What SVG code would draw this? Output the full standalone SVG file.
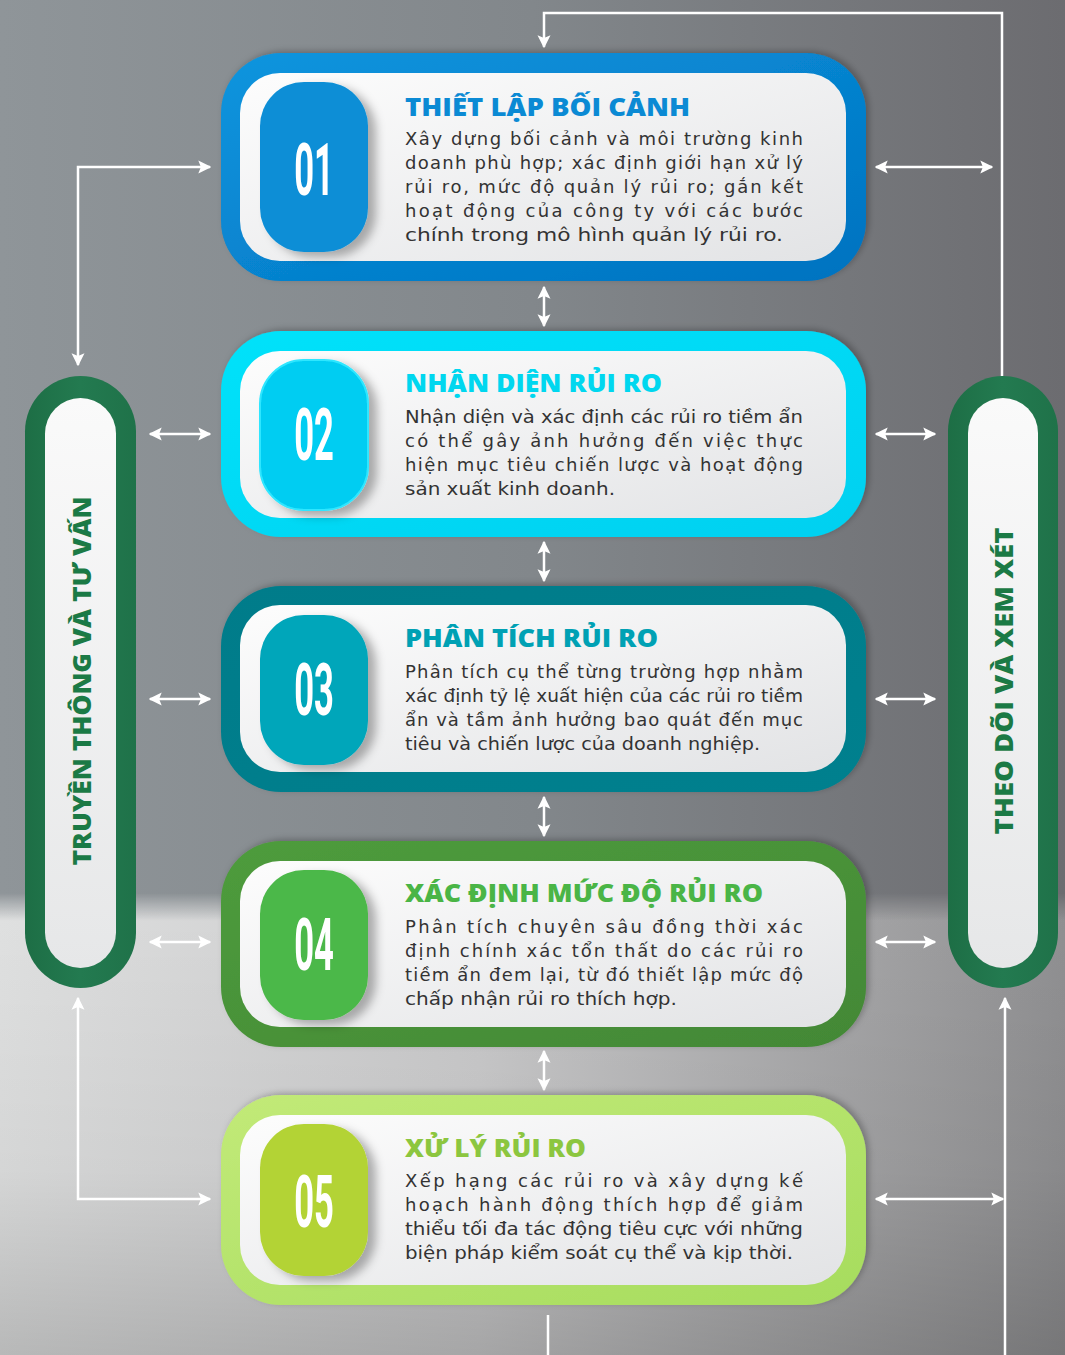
<svg xmlns="http://www.w3.org/2000/svg" width="1065" height="1355" viewBox="0 0 1065 1355">
<defs>
<linearGradient id="bgTop" x1="0" y1="0" x2="1" y2="0">
<stop offset="0" stop-color="#8f9599"/><stop offset="0.5" stop-color="#82878b"/><stop offset="1" stop-color="#6c6c70"/>
</linearGradient>
<linearGradient id="bgFloor" x1="0" y1="0" x2="1" y2="0">
<stop offset="0" stop-color="#e0e1e1"/><stop offset="0.45" stop-color="#cacacb"/><stop offset="1" stop-color="#909092"/>
</linearGradient>
<linearGradient id="floorShade" x1="0" y1="0" x2="0" y2="1">
<stop offset="0" stop-color="#000" stop-opacity="0"/><stop offset="0.6" stop-color="#000" stop-opacity="0.05"/><stop offset="1" stop-color="#000" stop-opacity="0.18"/>
</linearGradient>
<linearGradient id="floorMaskG" x1="0" y1="0" x2="0" y2="1">
<stop offset="0" stop-color="#fff" stop-opacity="0"/><stop offset="0.06" stop-color="#fff" stop-opacity="1"/><stop offset="1" stop-color="#fff" stop-opacity="1"/>
</linearGradient>
<mask id="floorMask" maskUnits="userSpaceOnUse" x="0" y="893" width="1065" height="462">
<rect x="0" y="893" width="1065" height="462" fill="url(#floorMaskG)"/>
</mask>
<linearGradient id="white" x1="0" y1="0" x2="1" y2="1">
<stop offset="0" stop-color="#fdfdfd"/><stop offset="1" stop-color="#e2e3e5"/>
</linearGradient>
<linearGradient id="barWhite" x1="0" y1="0" x2="0" y2="1">
<stop offset="0" stop-color="#fafafa"/><stop offset="1" stop-color="#e6e7e8"/>
</linearGradient>
<linearGradient id="g1" x1="0" y1="0" x2="1" y2="1"><stop offset="0" stop-color="#0d95de"/><stop offset="1" stop-color="#0072c0"/></linearGradient>
<linearGradient id="g2" x1="0" y1="0" x2="1" y2="1"><stop offset="0" stop-color="#00e2fa"/><stop offset="1" stop-color="#00d0f0"/></linearGradient>
<linearGradient id="g3" x1="0" y1="0" x2="1" y2="1"><stop offset="0" stop-color="#007c8a"/><stop offset="1" stop-color="#00808e"/></linearGradient>
<linearGradient id="g4" x1="0" y1="0" x2="1" y2="1"><stop offset="0" stop-color="#4e9c3c"/><stop offset="1" stop-color="#438836"/></linearGradient>
<linearGradient id="g5" x1="0" y1="0" x2="1" y2="1"><stop offset="0" stop-color="#c2ea78"/><stop offset="1" stop-color="#a6dc5e"/></linearGradient>
<linearGradient id="gbar" x1="0" y1="0" x2="1" y2="0"><stop offset="0" stop-color="#1d6e45"/><stop offset="0.5" stop-color="#237a50"/><stop offset="1" stop-color="#1f7249"/></linearGradient>
<filter id="boxShadow" x="-30%" y="-20%" width="170%" height="150%">
<feDropShadow dx="8" dy="5" stdDeviation="5" flood-color="#000" flood-opacity="0.3"/>
</filter>
<filter id="cardShadow" x="-10%" y="-20%" width="120%" height="140%">
<feDropShadow dx="3" dy="-2" stdDeviation="3" flood-color="#000" flood-opacity="0.25"/>
</filter>
<marker id="ah" viewBox="0 0 10 10" refX="9" refY="5" markerWidth="13" markerHeight="14" markerUnits="userSpaceOnUse" orient="auto-start-reverse">
<path d="M0,0 L10,5 L0,10 L2,5 z" fill="#ffffff"/>
</marker>
</defs>
<style>
.conn{fill:none;stroke:#ffffff;stroke-width:2.5}
.inner{fill:url(#white)}
.title{font-family:"Open Sans","Noto Sans","DejaVu Sans",sans-serif;font-weight:800;font-size:24px}
.body{font-family:"DejaVu Sans","Noto Sans",sans-serif;font-size:18px;fill:#333333}
.num{font-family:Roboto,"Liberation Sans",sans-serif;font-weight:700;font-size:72px;fill:#ffffff;text-anchor:middle}
.bar{font-family:"Open Sans","Noto Sans","DejaVu Sans",sans-serif;font-weight:800;font-size:24px;fill:#1b7a45;text-anchor:middle}
</style>

<!-- background -->
<rect x="0" y="0" width="1065" height="1355" fill="url(#bgTop)"/>
<g mask="url(#floorMask)">
<rect x="0" y="893" width="1065" height="462" fill="url(#bgFloor)"/>
<rect x="0" y="893" width="1065" height="462" fill="url(#floorShade)"/>
</g>

<!-- connectors -->
<g id="connectors">
<path class="conn" d="M1002 376 V13 H544 V47" marker-end="url(#ah)"/>
<path class="conn" d="M210 167 H78 V365" marker-start="url(#ah)" marker-end="url(#ah)"/>
<path class="conn" d="M78 998 V1199 H210" marker-start="url(#ah)" marker-end="url(#ah)"/>
<path class="conn" d="M1005 1355 V998" marker-end="url(#ah)"/>
<path class="conn" d="M548 1315 V1355"/>
<path class="conn" d="M876 167 H992" marker-start="url(#ah)" marker-end="url(#ah)"/>
<path class="conn" d="M876 1199 H1003" marker-start="url(#ah)" marker-end="url(#ah)"/>
<path class="conn" d="M150 434 H210" marker-start="url(#ah)" marker-end="url(#ah)"/>
<path class="conn" d="M150 699 H210" marker-start="url(#ah)" marker-end="url(#ah)"/>
<path class="conn" d="M150 942 H210" marker-start="url(#ah)" marker-end="url(#ah)"/>
<path class="conn" d="M876 434 H935" marker-start="url(#ah)" marker-end="url(#ah)"/>
<path class="conn" d="M876 699 H935" marker-start="url(#ah)" marker-end="url(#ah)"/>
<path class="conn" d="M876 942 H935" marker-start="url(#ah)" marker-end="url(#ah)"/>
<path class="conn" d="M544 287 V326" marker-start="url(#ah)" marker-end="url(#ah)"/>
<path class="conn" d="M544 542 V581" marker-start="url(#ah)" marker-end="url(#ah)"/>
<path class="conn" d="M544 797 V836" marker-start="url(#ah)" marker-end="url(#ah)"/>
<path class="conn" d="M544 1051 V1090" marker-start="url(#ah)" marker-end="url(#ah)"/>
</g>

<!-- side bars -->
<g id="bar-left">
<rect x="25" y="376" width="111" height="612" rx="55.5" fill="url(#gbar)"/>
<rect x="45" y="398" width="71" height="570" rx="35.5" fill="url(#barWhite)"/>
<text class="bar" transform="translate(91,681) rotate(-90)" textLength="369" lengthAdjust="spacingAndGlyphs">TRUYỀN THÔNG VÀ TƯ VẤN</text>
</g>
<g id="bar-right">
<rect x="948" y="376" width="110" height="612" rx="55" fill="url(#gbar)"/>
<rect x="968" y="398" width="70" height="570" rx="35" fill="url(#barWhite)"/>
<text class="bar" transform="translate(1013,681) rotate(-90)" textLength="307" lengthAdjust="spacingAndGlyphs">THEO DÕI VÀ XEM XÉT</text>
</g>

<!-- card 1 -->
<g id="card-01">
<rect x="221" y="53" width="645" height="228" rx="60" fill="url(#g1)" filter="url(#cardShadow)"/>
<rect class="inner" x="240" y="73" width="606" height="188" rx="40"/>
<rect x="260" y="82" width="108" height="170" rx="44" fill="#0a8ed6" filter="url(#boxShadow)"/>
<text class="num" transform="translate(314,195) scale(0.48,1)">01</text>
<text class="title" x="405" y="116" fill="#0b8ad4" textLength="285" lengthAdjust="spacingAndGlyphs">THIẾT LẬP BỐI CẢNH</text>
<text class="body" x="405" y="145" textLength="398" lengthAdjust="spacing">Xây dựng bối cảnh và môi trường kinh</text>
<text class="body" x="405" y="169" textLength="398" lengthAdjust="spacing">doanh phù hợp; xác định giới hạn xử lý</text>
<text class="body" x="405" y="193" textLength="398" lengthAdjust="spacing">rủi ro, mức độ quản lý rủi ro; gắn kết</text>
<text class="body" x="405" y="217" textLength="398" lengthAdjust="spacing">hoạt động của công ty với các bước</text>
<text class="body" x="405" y="241" textLength="378" lengthAdjust="spacingAndGlyphs">chính trong mô hình quản lý rủi ro.</text>
</g>

<!-- card 2 -->
<g id="card-02">
<rect x="221" y="331" width="645" height="206" rx="60" fill="url(#g2)" filter="url(#cardShadow)"/>
<rect class="inner" x="240" y="351" width="606" height="167" rx="40"/>
<rect x="260" y="360" width="108" height="150" rx="44" fill="#00cdf2" stroke="#2ee6ff" stroke-width="2" filter="url(#boxShadow)"/>
<text class="num" transform="translate(314,460) scale(0.48,1)">02</text>
<text class="title" x="405" y="392" fill="#00d7ef" textLength="257" lengthAdjust="spacingAndGlyphs">NHẬN DIỆN RỦI RO</text>
<text class="body" x="405" y="423" textLength="398" lengthAdjust="spacingAndGlyphs">Nhận diện và xác định các rủi ro tiềm ẩn</text>
<text class="body" x="405" y="447" textLength="398" lengthAdjust="spacing">có thể gây ảnh hưởng đến việc thực</text>
<text class="body" x="405" y="471" textLength="398" lengthAdjust="spacing">hiện mục tiêu chiến lược và hoạt động</text>
<text class="body" x="405" y="495" textLength="210" lengthAdjust="spacingAndGlyphs">sản xuất kinh doanh.</text>
</g>

<!-- card 3 -->
<g id="card-03">
<rect x="221" y="586" width="645" height="206" rx="60" fill="url(#g3)" filter="url(#cardShadow)"/>
<rect class="inner" x="240" y="605" width="606" height="167" rx="40"/>
<rect x="260" y="615" width="108" height="150" rx="44" fill="#00a6ba" filter="url(#boxShadow)"/>
<text class="num" transform="translate(314,715) scale(0.48,1)">03</text>
<text class="title" x="405" y="647" fill="#00a1b4" textLength="253" lengthAdjust="spacingAndGlyphs">PHÂN TÍCH RỦI RO</text>
<text class="body" x="405" y="678" textLength="398" lengthAdjust="spacing">Phân tích cụ thể từng trường hợp nhằm</text>
<text class="body" x="405" y="702" textLength="398" lengthAdjust="spacingAndGlyphs">xác định tỷ lệ xuất hiện của các rủi ro tiềm</text>
<text class="body" x="405" y="726" textLength="398" lengthAdjust="spacing">ẩn và tầm ảnh hưởng bao quát đến mục</text>
<text class="body" x="405" y="750" textLength="355" lengthAdjust="spacingAndGlyphs">tiêu và chiến lược của doanh nghiệp.</text>
</g>

<!-- card 4 -->
<g id="card-04">
<rect x="221" y="841" width="645" height="206" rx="60" fill="url(#g4)" filter="url(#cardShadow)"/>
<rect class="inner" x="240" y="861" width="606" height="166" rx="40"/>
<rect x="260" y="870" width="108" height="150" rx="44" fill="#4cb848" filter="url(#boxShadow)"/>
<text class="num" transform="translate(314,970) scale(0.48,1)">04</text>
<text class="title" x="405" y="902" fill="#4ab546" textLength="358" lengthAdjust="spacingAndGlyphs">XÁC ĐỊNH MỨC ĐỘ RỦI RO</text>
<text class="body" x="405" y="933" textLength="398" lengthAdjust="spacing">Phân tích chuyên sâu đồng thời xác</text>
<text class="body" x="405" y="957" textLength="398" lengthAdjust="spacing">định chính xác tổn thất do các rủi ro</text>
<text class="body" x="405" y="981" textLength="398" lengthAdjust="spacing">tiềm ẩn đem lại, từ đó thiết lập mức độ</text>
<text class="body" x="405" y="1005" textLength="272" lengthAdjust="spacingAndGlyphs">chấp nhận rủi ro thích hợp.</text>
</g>

<!-- card 5 -->
<g id="card-05">
<rect x="221" y="1095" width="645" height="210" rx="60" fill="url(#g5)" filter="url(#cardShadow)"/>
<rect class="inner" x="240" y="1115" width="606" height="170" rx="40"/>
<rect x="260" y="1124" width="108" height="152" rx="44" fill="#b3d334" filter="url(#boxShadow)"/>
<text class="num" transform="translate(314,1227) scale(0.48,1)">05</text>
<text class="title" x="405" y="1157" fill="#8cc63f" textLength="181" lengthAdjust="spacingAndGlyphs">XỬ LÝ RỦI RO</text>
<text class="body" x="405" y="1187" textLength="398" lengthAdjust="spacing">Xếp hạng các rủi ro và xây dựng kế</text>
<text class="body" x="405" y="1211" textLength="398" lengthAdjust="spacing">hoạch hành động thích hợp để giảm</text>
<text class="body" x="405" y="1235" textLength="398" lengthAdjust="spacingAndGlyphs">thiểu tối đa tác động tiêu cực với những</text>
<text class="body" x="405" y="1259" textLength="388" lengthAdjust="spacingAndGlyphs">biện pháp kiểm soát cụ thể và kịp thời.</text>
</g>
</svg>
